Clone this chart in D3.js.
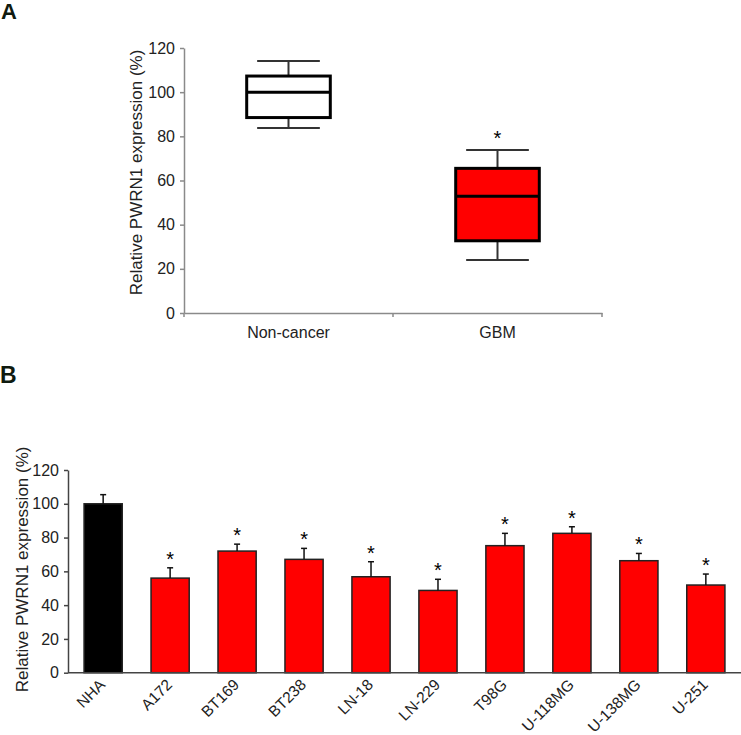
<!DOCTYPE html>
<html>
<head>
<meta charset="utf-8">
<script src="https://cdn.jsdelivr.net/npm/d3@7"></script>
<style>
  html, body { margin: 0; padding: 0; background: #fff; }
  svg { display: block; font-family: "Liberation Sans", Arial, sans-serif; }
</style>
</head>
<body>
<svg id="chart" width="741" height="735"></svg>
<script>
// ---------- Panel A data (box plot) ----------
const groupsA = ["Non-cancer", "GBM"];
const minA    = [83.8, 24.0];
const q1A     = [88.5, 32.7];
const medA    = [100, 52.9];
const q3A     = [107.3, 65.5];
const maxA    = [114.1, 73.8];
const sigA    = [false, true];
const fillA   = ["#ffffff", "#ff0000"];

// ---------- Panel B data (bar chart) ----------
const cellLines = ["NHA", "A172", "BT169", "BT238", "LN-18", "LN-229", "T98G", "U-118MG", "U-138MG", "U-251"];
const meanB     = [100, 56, 72, 67.1, 56.8, 48.7, 75.2, 82.5, 66.3, 51.9];
const errB      = [5.4, 6.1, 4.1, 6.5, 8.9, 6.6, 7.3, 3.9, 4.3, 6.5];
const sigB      = [false, true, true, true, true, true, true, true, true, true];
const fillB     = ["#000000", "#ff0000", "#ff0000", "#ff0000", "#ff0000", "#ff0000", "#ff0000", "#ff0000", "#ff0000", "#ff0000"];

const yTicks = [0, 20, 40, 60, 80, 100, 120];
const yTitle = "Relative PWRN1 expression (%)";

const dataA = groupsA.map((g, i) => ({ g, min: minA[i], q1: q1A[i], med: medA[i], q3: q3A[i], max: maxA[i], sig: sigA[i], fill: fillA[i] }));
const dataB = cellLines.map((c, i) => ({ c, mean: meanB[i], err: errB[i], sig: sigB[i], fill: fillB[i] }));

const svg = d3.select("#chart");

// ---------- Panel labels ----------
svg.append("text").attr("x", 1).attr("y", 19).text("A")
  .style("font-size", "22px").style("font-weight", "bold").attr("fill", "#0f1a0f");
svg.append("text").attr("x", 0).attr("y", 383).text("B")
  .style("font-size", "23px").style("font-weight", "bold").attr("fill", "#0f1a0f");

// ================= Panel A =================
const xA = d3.scaleBand().domain(groupsA).range([184, 602]).padding(0);
const yA = d3.scaleLinear().domain([0, 120]).range([313, 48]);

const gA = svg.append("g");
const axA = gA.append("g").attr("transform", "translate(184,0)")
  .call(d3.axisLeft(yA).tickValues(yTicks).tickSize(4).tickPadding(5).tickSizeOuter(0));
axA.select(".domain").attr("stroke", "#8a8a8a").attr("stroke-width", 1.5);
axA.selectAll(".tick line").attr("stroke", "#8a8a8a").attr("stroke-width", 1.5);
axA.selectAll(".tick text").style("font-size", "16px").attr("fill", "#222").style("font-family", "Liberation Sans, Arial, sans-serif");

const axAx = gA.append("g").attr("transform", "translate(0,313)")
  .call(d3.axisBottom(xA).tickSize(0).tickPadding(14));
axAx.select(".domain").attr("stroke", "#8a8a8a").attr("stroke-width", 1.5);
axAx.selectAll(".tick text").style("font-size", "16px").attr("fill", "#222").style("font-family", "Liberation Sans, Arial, sans-serif");
// category separator ticks
const sepA = [0, 1, 2].map(i => 184 + i * xA.step());
gA.selectAll("line.sepA").data(sepA).join("line").attr("class", "sepA")
  .attr("x1", d => d).attr("x2", d => d).attr("y1", 313).attr("y2", 317)
  .attr("stroke", "#8a8a8a").attr("stroke-width", 1.5);

gA.append("text")
  .attr("transform", `translate(142,${(yA(0) + yA(120)) / 2 - 8}) rotate(-90)`)
  .attr("text-anchor", "middle").style("font-size", "17px").attr("fill", "#222").text(yTitle);

const boxW = xA.bandwidth() * 0.4;
const capW = xA.bandwidth() * 0.3;
const boxes = gA.selectAll("g.box").data(dataA).join("g").attr("class", "box")
  .attr("transform", d => `translate(${xA(d.g) + xA.bandwidth() / 2},0)`);
boxes.append("line").attr("x1", 0).attr("x2", 0)
  .attr("y1", d => yA(d.max)).attr("y2", d => yA(d.q3))
  .attr("stroke", "#333").attr("stroke-width", 2);
boxes.append("line").attr("x1", 0).attr("x2", 0)
  .attr("y1", d => yA(d.q1)).attr("y2", d => yA(d.min))
  .attr("stroke", "#333").attr("stroke-width", 2);
boxes.append("line").attr("x1", -capW / 2).attr("x2", capW / 2)
  .attr("y1", d => yA(d.max)).attr("y2", d => yA(d.max))
  .attr("stroke", "#333").attr("stroke-width", 2);
boxes.append("line").attr("x1", -capW / 2).attr("x2", capW / 2)
  .attr("y1", d => yA(d.min)).attr("y2", d => yA(d.min))
  .attr("stroke", "#333").attr("stroke-width", 2);
boxes.append("rect").attr("x", -boxW / 2).attr("width", boxW)
  .attr("y", d => yA(d.q3)).attr("height", d => yA(d.q1) - yA(d.q3))
  .attr("fill", d => d.fill).attr("stroke", "#000").attr("stroke-width", 3);
boxes.append("line").attr("x1", -boxW / 2).attr("x2", boxW / 2)
  .attr("y1", d => yA(d.med)).attr("y2", d => yA(d.med))
  .attr("stroke", "#000").attr("stroke-width", 3);
boxes.filter(d => d.sig).append("text")
  .attr("x", 0).attr("y", d => yA(d.max) - 5)
  .attr("text-anchor", "middle").style("font-size", "20px").attr("fill", "#000").text("*");

// ================= Panel B =================
const xB = d3.scaleBand().domain(cellLines).range([68, 741]).paddingInner(0.43).paddingOuter(0.24);
const yB = d3.scaleLinear().domain([0, 120]).range([672.7, 470]);

const gB = svg.append("g");
const axB = gB.append("g").attr("transform", "translate(68,0)")
  .call(d3.axisLeft(yB).tickValues(yTicks).tickSize(4).tickPadding(5).tickSizeOuter(0));
axB.select(".domain").attr("stroke", "#444").attr("stroke-width", 1.5);
axB.selectAll(".tick line").attr("stroke", "#444").attr("stroke-width", 1.5);
axB.selectAll(".tick text").style("font-size", "16px").attr("fill", "#222").style("font-family", "Liberation Sans, Arial, sans-serif");

gB.append("text")
  .attr("transform", `translate(28,${(yB(0) + yB(120)) / 2 - 2}) rotate(-90)`)
  .attr("text-anchor", "middle").style("font-size", "17px").attr("fill", "#222").text(yTitle);

// bars
gB.selectAll("rect.bar").data(dataB).join("rect").attr("class", "bar")
  .attr("x", d => xB(d.c)).attr("width", xB.bandwidth())
  .attr("y", d => yB(d.mean)).attr("height", d => yB(0) - yB(d.mean))
  .attr("fill", d => d.fill).attr("stroke", "#222").attr("stroke-width", 1.5);
// error bars
const ebCap = 6;
const cx = d => xB(d.c) + xB.bandwidth() / 2;
gB.selectAll("line.eb").data(dataB).join("line").attr("class", "eb")
  .attr("x1", cx).attr("x2", cx)
  .attr("y1", d => yB(d.mean)).attr("y2", d => yB(d.mean + d.err))
  .attr("stroke", "#111").attr("stroke-width", 1.5);
gB.selectAll("line.ebc").data(dataB).join("line").attr("class", "ebc")
  .attr("x1", d => cx(d) - ebCap / 2).attr("x2", d => cx(d) + ebCap / 2)
  .attr("y1", d => yB(d.mean + d.err)).attr("y2", d => yB(d.mean + d.err))
  .attr("stroke", "#111").attr("stroke-width", 1.5);
// stars
gB.selectAll("text.star").data(dataB.filter(d => d.sig)).join("text").attr("class", "star")
  .attr("x", cx)
  .attr("y", d => yB(d.mean + d.err) - 2)
  .attr("text-anchor", "middle").style("font-size", "20px").attr("fill", "#000").text("*");

// x axis line
gB.append("line").attr("x1", 68).attr("x2", 741).attr("y1", yB(0)).attr("y2", yB(0))
  .attr("stroke", "#444").attr("stroke-width", 1.5);
// rotated labels
const lbl = gB.selectAll("g.xl").data(dataB).join("g").attr("class", "xl")
  .attr("transform", d => `translate(${cx(d) + 3},${yB(0) + 13})`);
lbl.append("text")
  .attr("transform", "rotate(-45)")
  .attr("text-anchor", "end").style("font-size", "15.5px").attr("fill", "#222").text(d => d.c);
</script>
</body>
</html>
